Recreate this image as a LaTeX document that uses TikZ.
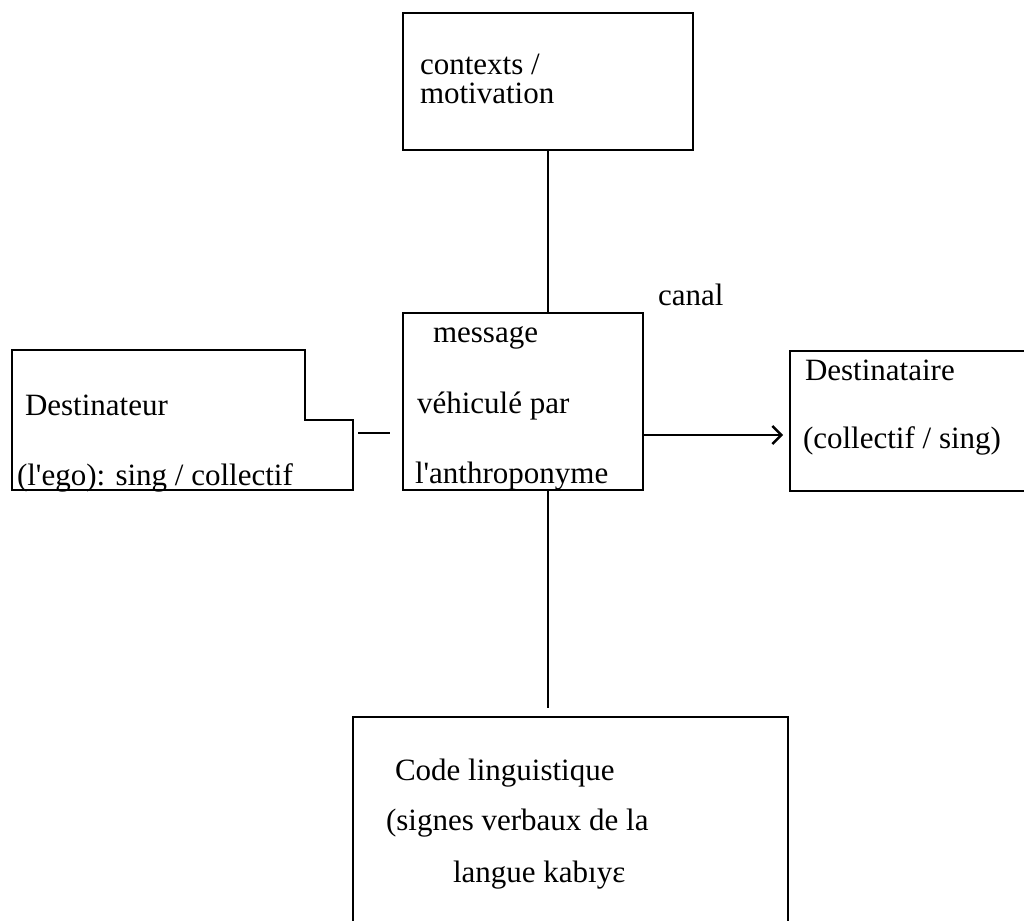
\documentclass[tikz,border=0pt]{standalone}
\usepackage{fontspec}
\setmainfont{Liberation Serif}
\usetikzlibrary{arrows.meta}
\begin{document}
\begin{tikzpicture}[x=1pt,y=-1pt,
  every node/.style={inner sep=0pt, outer sep=0pt},
  frame/.style={draw, line width=2.4pt},
  label/.style={anchor=base west, font=\fontsize{31}{37}\selectfont},
  link/.style={line width=2.4pt},
  flow/.style={line width=2.4pt, -{Straight Barb[length=9pt,width=18pt,line width=2.4pt]}}]
  \useasboundingbox (0,0) rectangle (1024,920);
  \clip (0,0) rectangle (1024,920);

  % boxes
  \node[frame, minimum width=290pt, minimum height=137pt, anchor=north west] (ctx) at (403,13) {};
  \node[frame, minimum width=240pt, minimum height=177pt, anchor=north west] (msg) at (403,313) {};
  \node[frame, minimum width=260pt, minimum height=140pt, anchor=north west] (dst) at (790,351) {};
  \node[frame, minimum width=435pt, minimum height=260pt, anchor=north west] (code) at (353,717) {};

  % sender box with a notch on its upper right corner
  \node[minimum width=341pt, minimum height=140pt, anchor=north west] (src) at (12,350) {};
  \draw[line width=2.4pt] (src.north west) -- (305,350) -- (305,420) -- (353,420)
    -- (src.south east) -- (src.south west) -- cycle;

  % texts
  \node[label] (t1) at (420,75) {contexts /};
  \node[label] (t2) at (420,104) {motivation};
  \node[label] (t3) at (658,305) {canal};
  \node[label] (t4) at (433,342) {message};
  \node[label] (t5) at (417,413) {véhiculé par};
  \node[label] (t6) at (415,483) {l\textquotesingle anthroponyme};
  \node[label] (t7) at (25,415) {Destinateur};
  \node[label] (t8) at (17,485) {(l\textquotesingle ego): sing / collectif};
  \node[label] (t9) at (805,380) {Destinataire};
  \node[label] (t10) at (803,448) {(collectif / sing)};
  \node[label] (t11) at (395,780) {Code linguistique};
  \node[label] (t12) at (386,830) {(signes verbaux de la};
  \node[label] (t13) at (453,882) {langue kabıyɛ};

  % connectors
  \coordinate (a1) at (548,312);
  \coordinate (a2) at (548,708);
  \coordinate (l1) at (358,433);
  \coordinate (l2) at (390,433);
  \coordinate (r1) at (643,435);
  \coordinate (r2) at (783,435);
  \draw[link] (ctx.south -| a1) -- (a1);
  \draw[link] (msg.south -| a1) -- (a2);
  \draw[link] (l1) -- (l2);
  \draw[flow] (r1) -- (r2);
\end{tikzpicture}
\end{document}
